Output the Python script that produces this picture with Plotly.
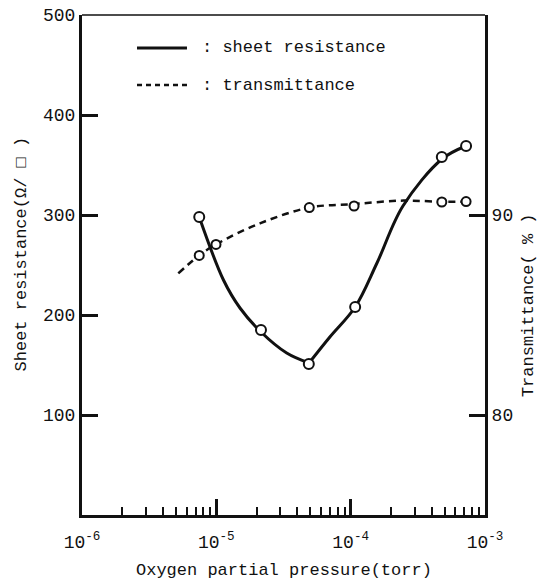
import plotly.graph_objects as go

# ---- data ----
res_pressure = [7.46e-6, 2.15e-5, 4.88e-5, 1.08e-4, 4.77e-4, 7.23e-4]
res_values = [298, 185, 151, 208, 358, 369]

trans_pressure = [7.46e-6, 9.94e-6, 4.92e-5, 1.06e-4, 4.77e-4, 7.23e-4]
trans_values = [87.98, 88.53, 90.37, 90.45, 90.65, 90.67]

# hand-drawn curves; the resistance curve has a sharp minimum
res_curve_left_pressure = [7.46e-6, 1.13e-5, 1.5e-5, 2.15e-5, 3.34e-5, 4.9e-5]
res_curve_left_values = [298, 235, 207, 183, 162, 152]
res_curve_right_pressure = [4.9e-5, 7.0e-5, 1.08e-4, 1.57e-4, 2.45e-4, 4.79e-4, 7.23e-4]
res_curve_right_values = [152, 178, 208, 252, 309, 356, 369]

trans_curve_pressure = [5.21e-6, 7.46e-6, 9.94e-6, 2.11e-5, 4.92e-5, 1.06e-4, 2.47e-4, 4.77e-4, 7.23e-4]
trans_curve_values = [87.08, 87.98, 88.53, 89.58, 90.37, 90.55, 90.72, 90.66, 90.67]

x_major_ticks = [1e-6, 1e-5, 1e-4, 1e-3]
x_major_labels = ["10<sup>-6</sup>", "10<sup>-5</sup>", "10<sup>-4</sup>", "10<sup>-3</sup>"]
x_minor_mult = [2, 3, 4, 5, 6, 7, 8, 9]
x_minor_decades = [1e-6, 1e-5, 1e-4]
x_minor_ticks = [m * d for d in x_minor_decades for m in x_minor_mult]

y_left_ticks = [100, 200, 300, 400, 500]
y_right_ticks = [80, 90]

legend_labels = [": sheet resistance", ": transmittance"]
x_title = "Oxygen partial pressure(torr)"
y_title = "Sheet resistance(Ω/ □ )"
y2_title = "Transmittance( % )"

FONT = "Liberation Mono"
BLACK = "#111111"

fig = go.Figure()

for px_, py_ in [(res_curve_left_pressure, res_curve_left_values),
                 (res_curve_right_pressure, res_curve_right_values)]:
    fig.add_trace(go.Scatter(
        x=px_, y=py_, mode="lines",
        line=dict(color=BLACK, width=3, shape="spline", smoothing=1.0),
        showlegend=False, hoverinfo="skip"))
fig.add_trace(go.Scatter(
    x=trans_curve_pressure, y=trans_curve_values, mode="lines", yaxis="y2",
    line=dict(color=BLACK, width=2.5, dash="7px,5px", shape="spline", smoothing=1.0),
    showlegend=False, hoverinfo="skip"))
fig.add_trace(go.Scatter(
    x=res_pressure, y=res_values, mode="markers",
    marker=dict(symbol="circle", size=10, color="white", line=dict(color=BLACK, width=2)),
    showlegend=False))
fig.add_trace(go.Scatter(
    x=trans_pressure, y=trans_values, mode="markers", yaxis="y2",
    marker=dict(symbol="circle", size=9, color="white", line=dict(color=BLACK, width=2)),
    showlegend=False))

fig.update_layout(
    width=549, height=583,
    margin=dict(l=82, r=64, t=15, b=68),
    paper_bgcolor="white", plot_bgcolor="white",
    font=dict(family=FONT, size=17, color=BLACK),
    showlegend=False,
    xaxis=dict(
        type="log", range=[-6, -3], automargin=False,
        tickmode="array", tickvals=x_major_ticks, ticktext=x_major_labels,
        ticks="inside", ticklen=16, tickwidth=3, tickcolor=BLACK,
        showline=True, linewidth=3, linecolor=BLACK,
        showgrid=False, zeroline=False, ticklabeloverflow="allow",
        tickfont=dict(family=FONT, size=18), ticklabelstandoff=8,
        minor=dict(tickmode="array", tickvals=x_minor_ticks, ticks="inside",
                   ticklen=8, tickwidth=2, tickcolor=BLACK, showgrid=False),
    ),
    yaxis=dict(
        range=[0, 500], automargin=False, tickmode="array", tickvals=y_left_ticks,
        ticks="inside", ticklen=16, tickwidth=3, tickcolor=BLACK,
        showline=True, linewidth=3, linecolor=BLACK,
        showgrid=False, zeroline=False, ticklabeloverflow="allow",
        tickfont=dict(family=FONT, size=18),
    ),
    yaxis2=dict(
        range=[75, 100], automargin=False, overlaying="y", side="right",
        tickmode="array", tickvals=y_right_ticks,
        ticks="inside", ticklen=16, tickwidth=3, tickcolor=BLACK,
        showline=True, linewidth=3, linecolor=BLACK,
        showgrid=False, zeroline=False, ticklabeloverflow="allow",
        tickfont=dict(family=FONT, size=18),
    ),
)

# top border (thin)
fig.add_shape(type="line", xref="paper", yref="paper", x0=0, x1=1, y0=1, y1=1,
              line=dict(color=BLACK, width=1.5))

# axis titles
fig.add_annotation(text=x_title, xref="paper", yref="paper", x=0.5, y=-0.11,
                   showarrow=False, font=dict(family=FONT, size=17),
                   xanchor="center", yanchor="middle")
fig.add_annotation(text=y_title, xref="paper", yref="paper",
                   x=-0.149, y=0.523, textangle=-90, showarrow=False,
                   font=dict(family=FONT, size=17), xanchor="center", yanchor="middle")
fig.add_annotation(text=y2_title, xref="paper", yref="paper",
                   x=1.107, y=0.42, textangle=-90, showarrow=False,
                   font=dict(family=FONT, size=17), xanchor="center", yanchor="middle")

# legend drawn manually
fig.add_shape(type="line", xref="paper", yref="paper", x0=0.1365, x1=0.2605, y0=0.934, y1=0.934,
              line=dict(color=BLACK, width=3))
fig.add_shape(type="line", xref="paper", yref="paper", x0=0.1365, x1=0.2605, y0=0.86, y1=0.86,
              line=dict(color=BLACK, width=2.5, dash="5px,4px"))
fig.add_annotation(text=legend_labels[0], xref="paper", yref="paper", x=0.293, y=0.934,
                   xanchor="left", yanchor="middle", showarrow=False,
                   font=dict(family=FONT, size=17))
fig.add_annotation(text=legend_labels[1], xref="paper", yref="paper", x=0.293, y=0.86,
                   xanchor="left", yanchor="middle", showarrow=False,
                   font=dict(family=FONT, size=17))

# remove the browser's default body margin so the figure sits at the page origin
fig.write_html("out.html", config={"displayModeBar": False},
               post_script="document.body.style.margin='0';")
